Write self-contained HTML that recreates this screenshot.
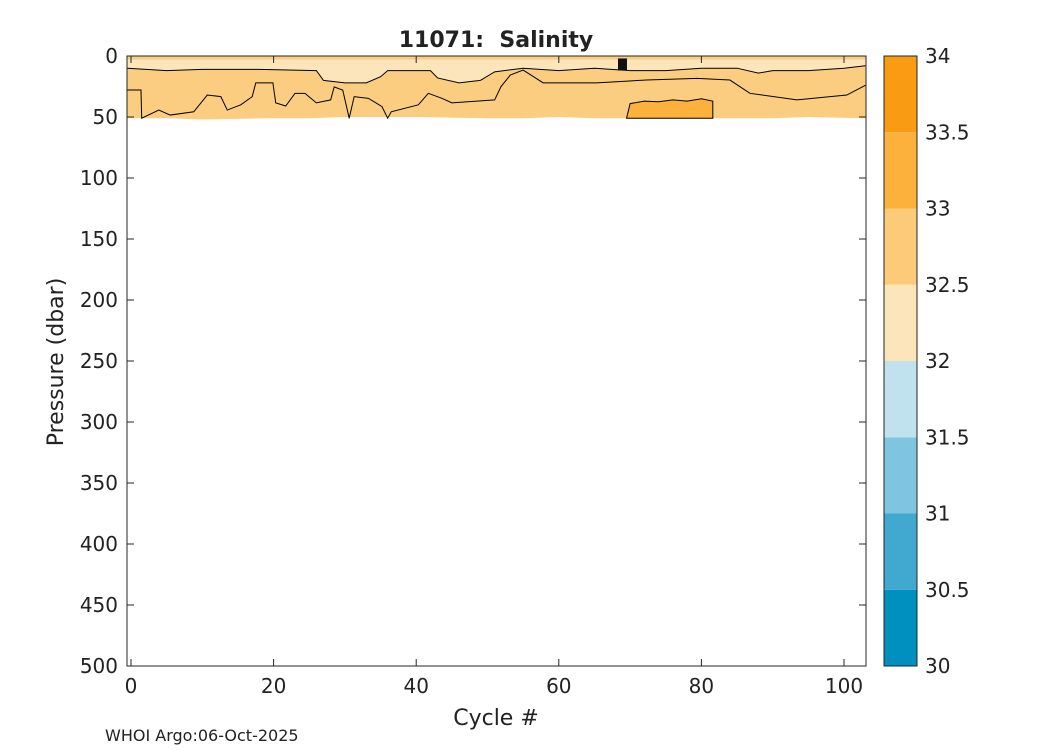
<!DOCTYPE html>
<html><head><meta charset="utf-8"><style>body{margin:0;background:#fff}svg{display:block}text{font-family:"DejaVu Sans","Liberation Sans",sans-serif;fill:#222;white-space:pre}</style></head>
<body>
<svg id="c" width="1050" height="750"></svg>
<script>
const xTicks=[0,20,40,60,80,100];
const yTicks=[0,50,100,150,200,250,300,350,400,450,500];
const cbTicks=[30,30.5,31,31.5,32,32.5,33,33.5,34];
const cbColors=['#0090bf','#41a8cf','#80c5df','#bfe2ee','#fde5bb','#fbcb7a','#fbb13c','#f99c14'];
const dataMaxP=[51,51,52,51,51,50,50,51,51,50,51,51,50,51,51,50,51];
const dataMaxC=[-0.5,5,10,20,25,30,40,50,55,60,65,70,75,80,90,95,103];
const lightC=[-0.5,5,10,18,26,27,30,33,35,36,42,43,46,49,51,55,60,65,70,75,80,85,88,90,95,100,103];
const lightP=[10,12,11,11,12,20,22,22,17,12,12,18,22,20,13,10,12,10,12,12,10,10,14,12,12,10,8];
const contC=[-0.5,1.4,1.5,3.9,5.5,8.8,10.7,12.6,13.5,15.4,17,17.5,19.9,20.3,21.7,23,24.4,26,28,28.5,29.7,30.6,31.3,33.3,35.2,36,36.5,40.3,41.7,43.6,45,51,51.9,53.2,55,57.8,65.3,72.3,79.4,84,86.8,93.4,100.4,103];
const contP=[27.9,27.9,51,44.3,48.4,45.7,32,33.3,44.3,40,33.3,22,22,38.4,41,30.6,30.6,38.4,36,25.3,28,51,33.3,34.7,41.5,51,45.7,40,30.6,34.7,38.4,36,25,15.6,11.5,22,22,19.7,18.3,19.7,30.6,36,32,24];
const hiC=[70,72,74,76,78,80,81.6];
const hiP=[39,37,37.5,36,37,35,37];
const L=127,R=866,T=56,B=666;
const sx=c=>131+c*(844-131)/100, sy=p=>T+p*(B-T)/500;
const svg=document.getElementById('c');const NS='http://www.w3.org/2000/svg';
function mk(t,a,p){const e=document.createElementNS(NS,t);for(const k in a)e.setAttribute(k,a[k]);(p||svg).appendChild(e);return e;}
function pts(cs,ps){return cs.map((c,i)=>sx(c)+','+sy(ps[i])).join(' ');}
const clip=mk('clipPath',{id:'cp'});mk('rect',{x:L,y:T,width:R-L,height:B-T},clip);
const g=mk('g',{'clip-path':'url(#cp)'});
let e=mk('polygon',{points:sx(-1)+','+T+' '+sx(104)+','+T+' '+pts(dataMaxC.slice().reverse(),dataMaxP.slice().reverse()),fill:'#fbcd80'},g);

e=mk('polygon',{points:sx(-1)+','+sy(3)+' '+sx(104)+','+sy(3)+' '+pts(lightC.slice().reverse(),lightP.slice().reverse()),fill:'#fde5bb'},g);

e=mk('polyline',{points:pts(lightC,lightP),fill:'none',stroke:'#000','stroke-width':1},g);

e=mk('polygon',{points:sx(69.5)+','+sy(51)+' '+pts(hiC,hiP)+' '+sx(81.6)+','+sy(51),fill:'#fbb13c',stroke:'#000','stroke-width':1},g);

e=mk('polyline',{points:pts(contC,contP),fill:'none',stroke:'#000','stroke-width':1},g);

e=mk('rect',{x:sx(68.3),y:sy(2),width:9,height:12,fill:'#111'},g);

e=mk('rect',{x:L,y:T,width:R-L,height:B-T,fill:'none',stroke:'#262626','stroke-width':1});

xTicks.forEach(v=>{const x=sx(v);mk('line',{x1:x,x2:x,y1:B,y2:B-7,stroke:'#262626'});mk('line',{x1:x,x2:x,y1:T,y2:T+7,stroke:'#262626'});
 const t=mk('text',{x:x,y:B+27,'text-anchor':'middle','font-size':20});t.textContent=v;
 });
yTicks.forEach(v=>{const y=sy(v);mk('line',{x1:L,x2:L+7,y1:y,y2:y,stroke:'#262626'});mk('line',{x1:R,x2:R-7,y1:y,y2:y,stroke:'#262626'});
 const t=mk('text',{x:L-9,y:y+7,'text-anchor':'end','font-size':20});t.textContent=v;
 });
const cx=884,cw=33,bh=(B-T)/cbColors.length;
cbColors.forEach((c,i)=>{const r=mk('rect',{x:cx,y:B-(i+1)*bh,width:cw,height:bh,fill:c});
 });
mk('rect',{x:cx,y:T,width:cw,height:B-T,fill:'none',stroke:'#262626'});
cbTicks.forEach((v,i)=>{const y=B-i*bh;const t=mk('text',{x:925,y:y+7,'font-size':20});t.textContent=v;
 });
let t=mk('text',{x:496,y:47,'text-anchor':'middle','font-size':22,'font-weight':'bold'});t.textContent='11071:  Salinity';

t=mk('text',{x:496,y:725,'text-anchor':'middle','font-size':22});t.textContent='Cycle #';

t=mk('text',{x:0,y:0,'text-anchor':'middle','font-size':22,transform:'translate(63,362) rotate(-90)'});t.textContent='Pressure (dbar)';

t=mk('text',{x:105,y:741,'font-size':16});t.textContent='WHOI Argo:06-Oct-2025';

</script>
</body></html>
